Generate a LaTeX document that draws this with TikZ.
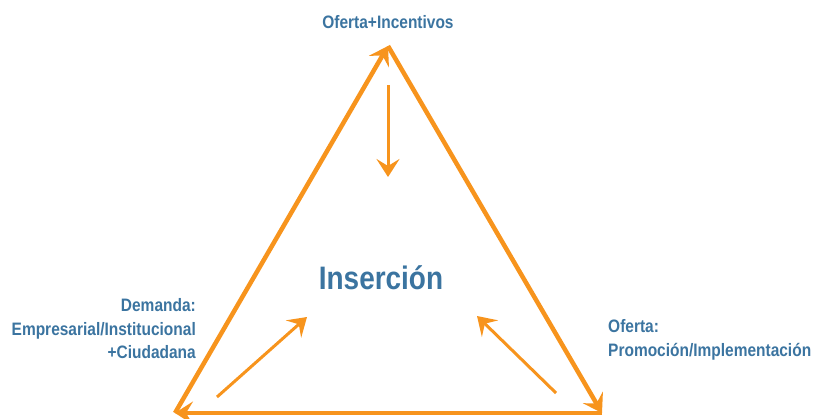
\documentclass[tikz,border=0pt]{standalone}
\usepackage{fontspec}
\setmainfont{Liberation Sans}[FakeStretch=0.86]
\usetikzlibrary{arrows.meta}
\definecolor{naranja}{HTML}{F7941D}
\definecolor{azul}{HTML}{3B74A0}
\begin{document}
\begin{tikzpicture}
		[x=1pt,y=-1pt,
			lado/.style={draw=naranja,line width=4.5pt,-{Stealth[length=18pt,width=23pt,inset=7pt]}},
			flecha/.style={draw=naranja,line width=3pt,-{Stealth[length=18pt,width=23pt,inset=7pt]}},
			etiqueta/.style={text=azul,font=\bfseries\fontsize{18}{23.5}\selectfont,inner sep=0pt},
			titulo/.style={text=azul,font=\bfseries\fontsize{32.5}{36}\selectfont,inner sep=0pt}]
	\useasboundingbox (0,0) rectangle (816,418);
	% vertices del triangulo
	\coordinate (T) at (388,46);
	\coordinate (BL) at (175,413);
	\coordinate (BR) at (602,413);
	\draw[lado] (BL) -- (T);
	\draw[lado] (T) -- (BR);
	\draw[lado] (BR) -- (BL);
	% textos
	\node[etiqueta] (arriba) at (388,22) {Oferta+Incentivos};
	\node[etiqueta,align=right,anchor=east] (izq) at (196,329) {Demanda:\\Empresarial/Institucional\\+Ciudadana};
	\node[etiqueta,align=left,anchor=west] (der) at (608,340) {Oferta:\\Promoción/Implementación};
	\node[titulo] (centro) at (381,278) {Inserción};
	% flechas interiores
	\coordinate (a1) at (388,85);
	\coordinate (a2) at (388,177);
	\coordinate (b1) at (217,397);
	\coordinate (b2) at (307,317);
	\coordinate (c1) at (556,393);
	\coordinate (c2) at (477,316);
	\draw[flecha] (a1) -- (a2);
	\draw[flecha] (b1) -- (b2);
	\draw[flecha] (c1) -- (c2);
\end{tikzpicture}
\end{document}
